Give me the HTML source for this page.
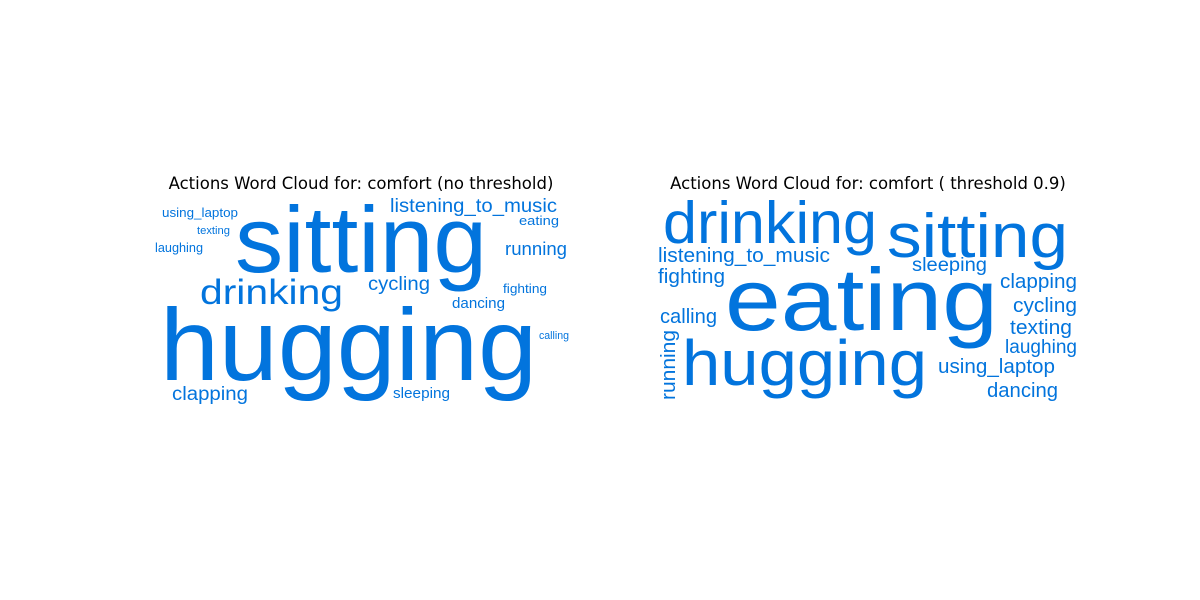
<!DOCTYPE html>
<html><head><meta charset="utf-8"><style>
html,body{margin:0;padding:0;background:#fff;width:1200px;height:600px;overflow:hidden}
svg{display:block}
.t{font-family:"DejaVu Sans",sans-serif;font-size:16.5px;fill:#000}
.w{font-family:"Liberation Sans",Arial,sans-serif;fill:#0274dd}
</style></head><body>
<svg id="chart" width="1200" height="600">
<text class="t" x="361" y="189" text-anchor="middle">Actions Word Cloud for: comfort (no threshold)</text>
<text class="t" x="868" y="189" text-anchor="middle">Actions Word Cloud for: comfort ( threshold 0.9)</text>
<g id="left"></g>
<g id="right"></g>
</svg>
<script>
// words and relative font sizes (weights)
const leftWords = ["sitting","hugging","drinking","clapping","using_laptop","texting","laughing","listening_to_music","eating","running","cycling","fighting","dancing","calling","sleeping"];
const leftSizes = [94,102,35,19,13,11,13,19,13,18,19,13,15,11,15];
const rightWords = ["drinking","sitting","listening_to_music","fighting","sleeping","eating","clapping","cycling","texting","laughing","using_laptop","dancing","calling","running","hugging"];
const rightSizes = [59,62,20,20,19,88,20,20,20,19,20,20,20,20,64];
// layout (x, baseline, width, rotation) from the word cloud placement
const leftLayout = [[235,272,252,0],[160,380,377,0],[200,304,143,0],[172,400,76,0],[162,217,76,0],[197,234,33,0],[155,252,48,0],[390,212,167,0],[519,225,40,0],[505,255,62,0],[368,290,62,0],[503,293,44,0],[452,308,53,0],[539,339,30,0],[393,398,57,0]];
const rightLayout = [[663,243,214,0],[887,257,181,0],[658,262,172,0],[658,283,67,0],[912,271,75,0],[725,330,273,0],[1000,288,77,0],[1013,312,64,0],[1010,334,62,0],[1005,353,72,0],[938,373,117,0],[987,397,71,0],[660,323,57,0],[675,400,70,-90],[682,385,245,0]];
const NS="http://www.w3.org/2000/svg";
function draw(gid, words, sizes, layout){
  const g=document.getElementById(gid);
  words.forEach((w,i)=>{
    const [x,y,wd,rot]=layout[i];
    const t=document.createElementNS(NS,"text");
    t.setAttribute("class","w");
    t.setAttribute("x",x);t.setAttribute("y",y);
    t.setAttribute("font-size",sizes[i]);
    t.setAttribute("textLength",wd);
    t.setAttribute("lengthAdjust","spacingAndGlyphs");
    if(rot) t.setAttribute("transform","rotate("+rot+" "+x+" "+y+")");
    t.textContent=w;
    
    
    g.appendChild(t);
  });
}
draw("left",leftWords,leftSizes,leftLayout);
draw("right",rightWords,rightSizes,rightLayout);
</script>
</body></html>
